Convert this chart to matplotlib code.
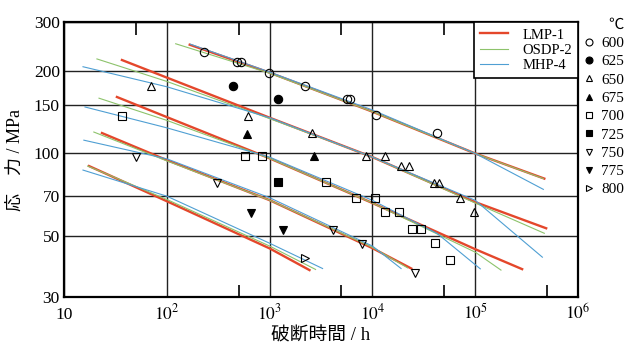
import matplotlib.pyplot as plt
from matplotlib.lines import Line2D
from matplotlib.ticker import FixedLocator, NullFormatter, NullLocator

plt.rcParams['font.family'] = ['Liberation Serif', 'Noto Sans CJK JP']
plt.rcParams['mathtext.fontset'] = 'stix'

# fitted curves (rupture time h, stress MPa), one per temperature and model
lmp_600_h = [167, 1000, 1e4, 1e5, 4.7e5]
lmp_600_s = [249, 197, 142, 100, 81]
osdp_600_h = [122, 1000, 1e4, 1e5, 4.6e5]
osdp_600_s = [251, 196, 142, 100, 81]
mhp_600_h = [170, 1000, 1e4, 1e5, 4.6e5]
mhp_600_s = [250, 198, 144, 100, 74]

lmp_650_h = [36.6, 100, 1000, 1e4, 1e5, 4.9e5]
lmp_650_s = [219, 189, 135, 97, 66.5, 53.4]
osdp_650_h = [20.9, 100, 1000, 1e4, 1e5, 4.7e5]
osdp_650_s = [221, 183, 134, 97, 66, 51.2]
mhp_650_h = [15.3, 100, 1000, 1e4, 1e5, 4.5e5]
mhp_650_s = [207, 175, 135, 97, 67.5, 41.9]

lmp_700_h = [32.7, 100, 1000, 1e4, 1e5, 2.86e5]
lmp_700_s = [160.6, 135.7, 96, 66, 44.8, 37.9]
osdp_700_h = [21.9, 100, 1000, 1e4, 1e5, 1.78e5]
osdp_700_s = [159, 132, 96, 66, 43.7, 37.6]
mhp_700_h = [16, 100, 1000, 1e4, 4.27e4, 1.12e5]
mhp_700_s = [147.7, 124, 97, 67.5, 51.1, 38]

lmp_750_h = [23.4, 100, 1000, 1e4, 2.39e4]
lmp_750_s = [118.7, 94.6, 67.6, 45.2, 38.1]
osdp_750_h = [19.5, 100, 1000, 1e4, 2.2e4]
osdp_750_s = [119.7, 94, 67.6, 45.5, 38.3]
mhp_750_h = [15.6, 100, 1000, 1e4, 1.9e4]
mhp_750_s = [111.8, 95.6, 69, 46, 38.1]

lmp_800_h = [17.5, 100, 1000, 2443]
lmp_800_s = [90, 67, 45.1, 37.6]
osdp_800_h = [17, 100, 1000, 2800]
osdp_800_s = [90, 68, 46, 37.8]
mhp_800_h = [15.3, 100, 1000, 3276]
mhp_800_s = [87, 69.9, 47.1, 38.1]

# experimental points
t600_h = [229, 479, 523, 977, 2188, 5598, 6115, 10940, 42730]
t600_s = [235, 216, 216, 197, 176, 158, 158, 138, 119]
t625_h = [437, 1197]
t625_s = [176, 158]
t650_h = [70, 611, 2558, 8750, 13370, 19130, 22870, 40000, 44700, 71450, 97800]
t650_s = [176, 137, 119, 98, 98, 90, 90, 78, 78, 69, 61]
t675_h = [598, 2673]
t675_s = [118, 98]
t700_h = [36.6, 571, 836, 3574, 7000, 10700, 13370, 18290, 24450, 29900, 40900, 57200]
t700_s = [137, 98, 98, 79, 69, 69, 61, 61, 53, 53, 47, 41]
t725_h = [1197]
t725_s = [79]
t750_h = [50, 306, 4090, 8000, 26100]
t750_s = [97, 78, 52.5, 46.7, 36.6]
t775_h = [655, 1337]
t775_s = [60.6, 52.5]
t800_h = [2188]
t800_s = [41.5]

x_ticks = [10, 1e2, 1e3, 1e4, 1e5, 1e6]
x_labels = ['10', '$10^2$', '$10^3$', '$10^4$', '$10^5$', '$10^6$']
y_ticks = [30, 50, 70, 100, 150, 200, 300]

red = '#e4472b'
green = '#8dc36b'
blue = '#4f9fd3'

fig, ax = plt.subplots(figsize=(6.3, 3.44), dpi=100)
fig.subplots_adjust(left=0.1016, right=0.9175, bottom=0.1366, top=0.9346)
ax.set_xscale('log')
ax.set_yscale('log')
ax.set_xlim(10, 1e6)
ax.set_ylim(30, 300)

lmp = [(lmp_600_h, lmp_600_s), (lmp_650_h, lmp_650_s), (lmp_700_h, lmp_700_s),
       (lmp_750_h, lmp_750_s), (lmp_800_h, lmp_800_s)]
osdp = [(osdp_600_h, osdp_600_s), (osdp_650_h, osdp_650_s), (osdp_700_h, osdp_700_s),
        (osdp_750_h, osdp_750_s), (osdp_800_h, osdp_800_s)]
mhp = [(mhp_600_h, mhp_600_s), (mhp_650_h, mhp_650_s), (mhp_700_h, mhp_700_s),
       (mhp_750_h, mhp_750_s), (mhp_800_h, mhp_800_s)]
for h, s in lmp:
    ax.plot(h, s, color=red, lw=1.7, zorder=3)
for h, s in osdp:
    ax.plot(h, s, color=green, lw=0.8, zorder=3)
for h, s in mhp:
    ax.plot(h, s, color=blue, lw=0.8, zorder=3)

# marker styles for each temperature
pts = [(t600_h, t600_s, '600', 'o', 'none'), (t625_h, t625_s, '625', 'o', 'black'),
       (t650_h, t650_s, '650', '^', 'none'), (t675_h, t675_s, '675', '^', 'black'),
       (t700_h, t700_s, '700', 's', 'none'), (t725_h, t725_s, '725', 's', 'black'),
       (t750_h, t750_s, '750', 'v', 'none'), (t775_h, t775_s, '775', 'v', 'black'),
       (t800_h, t800_s, '800', '>', 'none')]
mk_handles = []
for h, s, lab, m, fc in pts:
    ax.plot(h, s, ls='none', marker=m, ms=6, mfc=fc, mec='black', mew=0.8, zorder=4)
    mk_handles.append(Line2D([], [], ls='none', marker=m, ms=5, mfc=fc, mec='black', mew=0.8))

ax.grid(True, which='major', color='#222222', lw=1.0)
for sp in ax.spines.values():
    sp.set_linewidth(1.6)

ax.set_xticks(x_ticks)
ax.set_xticklabels(x_labels, va='baseline')
ax.xaxis.set_minor_locator(FixedLocator([500, 5000, 5e4, 5e5]))
ax.xaxis.set_minor_formatter(NullFormatter())
ax.set_yticks(y_ticks)
ax.set_yticklabels([str(v) for v in y_ticks])
ax.yaxis.set_minor_locator(NullLocator())
ax.tick_params(axis='x', which='major', length=0, pad=16, labelsize=12.5)
ax.tick_params(axis='y', which='major', length=0, pad=3, labelsize=12.5)
ax.tick_params(axis='x', which='minor', direction='in', length=9, width=1.2)

top = ax.secondary_xaxis('top')
top.set_xticks([50, 500, 5000, 5e4])
top.xaxis.set_minor_locator(NullLocator())
top.tick_params(direction='in', length=9, width=1.2, labeltop=False)

ax.set_xlabel('破断時間 / h', fontsize=13.5, labelpad=3)
ax.set_ylabel('応\u3000力 / MPa', fontsize=13, labelpad=7)

leg = ax.legend([Line2D([], [], color=red, lw=1.7), Line2D([], [], color=green, lw=0.8),
                 Line2D([], [], color=blue, lw=0.8)],
                ['LMP-1', 'OSDP-2', 'MHP-4'], loc='upper right', borderaxespad=0,
                fancybox=False, edgecolor='black', framealpha=1, fontsize=10.5,
                handlelength=1.9, handletextpad=1.0, borderpad=0.4, labelspacing=0.15)
leg.get_frame().set_linewidth(1.2)
leg.set_zorder(6)

fig.legend(mk_handles, [p[2] for p in pts], loc='upper left', bbox_to_anchor=(0.925, 0.945),
           frameon=False, title='℃', title_fontsize=11, fontsize=11, handlelength=0.8,
           handletextpad=0.4, labelspacing=0.3, borderaxespad=0, borderpad=0,
           alignment='right')

fig.savefig('out.png', dpi=100)
